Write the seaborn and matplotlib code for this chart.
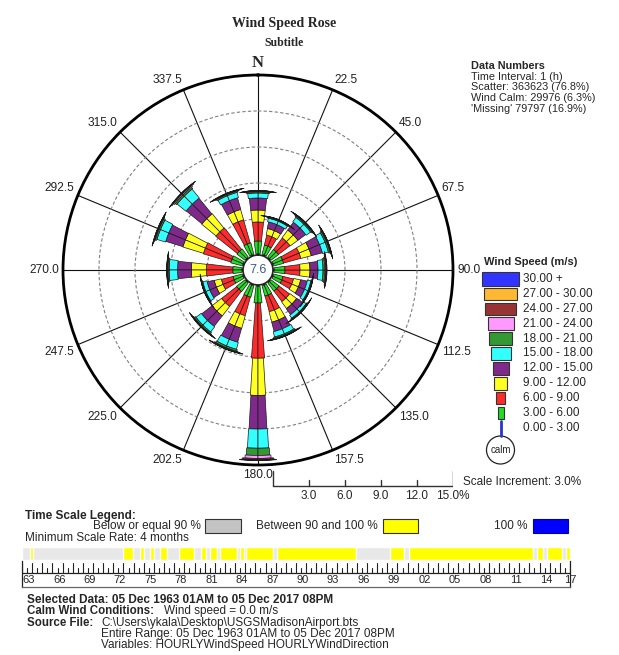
import numpy as np
import pandas as pd
import matplotlib
matplotlib.use("Agg")
import matplotlib.pyplot as plt
import seaborn as sns
from matplotlib.patches import Rectangle, Circle

sns.set_theme(style="white")
plt.rcParams['font.family'] = ['Liberation Sans', 'DejaVu Sans']

# --- Data ---
directions = np.arange(0, 360, 22.5)
speed_labels = ["0.00 - 3.00", "3.00 - 6.00", "6.00 - 9.00", "9.00 - 12.00",
                "12.00 - 15.00", "15.00 - 18.00", "18.00 - 21.00", "21.00 - 24.00",
                "24.00 - 27.00", "27.00 - 30.00", "30.00 +"]
speed_colors = ["#2a36c8", "#22dd22", "#ff2a2a", "#ffff22", "#7f2a8a", "#33ffff",
                "#339933", "#ff99ff", "#993333", "#ffb833", "#3333ff"]

# percent of valid records, per direction (N, NNE, NE, ... NNW)
pct_0_3 = [0.10, 0.10, 0.10, 0.10, 0.10, 0.10, 0.10, 0.10, 0.10, 0.10, 0.10, 0.10, 0.10, 0.10, 0.10, 0.10]
pct_3_6 = [1.07, 0.80, 0.80, 0.85, 0.90, 0.80, 0.85, 0.90, 1.40, 1.00, 0.90, 0.80, 0.75, 1.00, 0.85, 1.00]
pct_6_9 = [1.58, 0.85, 1.20, 1.50, 1.25, 0.90, 1.10, 1.35, 4.60, 1.60, 1.60, 1.00, 2.20, 2.40, 2.30, 2.00]
pct_9_12 = [1.00, 0.55, 0.80, 0.90, 0.83, 0.60, 0.70, 0.90, 3.10, 1.10, 1.00, 0.60, 1.25, 1.80, 1.55, 0.90]
pct_12_15 = [1.00, 0.55, 0.80, 0.95, 0.67, 0.55, 0.60, 0.80, 2.80, 1.20, 1.10, 0.60, 1.15, 1.50, 1.70, 1.00]
pct_15_18 = [0.42, 0.30, 0.45, 0.50, 0.42, 0.30, 0.30, 0.45, 1.60, 0.60, 0.55, 0.35, 0.70, 0.75, 0.95, 0.45]
pct_18_21 = [0.10, 0.07, 0.10, 0.12, 0.15, 0.07, 0.07, 0.10, 0.60, 0.15, 0.12, 0.07, 0.10, 0.12, 0.15, 0.10]
pct_21_24 = [0.05, 0.03, 0.05, 0.06, 0.08, 0.03, 0.03, 0.05, 0.25, 0.06, 0.05, 0.03, 0.05, 0.06, 0.10, 0.05]
pct_24_27 = [0.03, 0.02, 0.03, 0.03, 0.05, 0.02, 0.02, 0.03, 0.10, 0.03, 0.03, 0.02, 0.03, 0.04, 0.05, 0.03]
pct_27_30 = [0.02, 0.01, 0.02, 0.02, 0.03, 0.01, 0.01, 0.02, 0.05, 0.02, 0.02, 0.01, 0.02, 0.02, 0.03, 0.02]
pct_30_up = [0.01, 0.01, 0.01, 0.01, 0.02, 0.01, 0.01, 0.01, 0.03, 0.01, 0.01, 0.01, 0.01, 0.01, 0.02, 0.01]
calm_pct = 7.6

rose = pd.DataFrame([pct_0_3, pct_3_6, pct_6_9, pct_9_12, pct_12_15, pct_15_18,
                     pct_18_21, pct_21_24, pct_24_27, pct_27_30, pct_30_up],
                    index=speed_labels, columns=directions)

# time coverage (years with 90-100 % data), rest is <= 90 %
cover_start = [1964.67, 1973.88, 1975.57, 1976.51, 1977.52, 1979.44, 1981.51, 1982.41, 1983.39,
               1985.42, 1986.02, 1989.02, 2000.18, 2002.06, 2014.65, 2015.67, 2017.55]
cover_end = [1965.05, 1974.89, 1975.95, 1976.89, 1978.20, 1980.83, 1982.03, 1983.09, 1985.08,
             1985.79, 1988.65, 1996.88, 2001.57, 2014.28, 2015.29, 2017.17, 2017.92]
t_first, t_last = 1963.92, 2017.92
year_labels = ["63", "66", "69", "72", "75", "78", "81", "84", "87", "90",
               "93", "96", "99", "02", "05", "08", "11", "14", "17"]

# --- Figure ---
W, H = 619, 655
fig = plt.figure(figsize=(W / 100, H / 100), dpi=100)
fig.patch.set_facecolor("white")

cx, cy, R = 258, 270, 195
rmax, hole = 15.0, 1.25
px_per_pct = R / (rmax + hole)

ax = fig.add_axes([(cx - R) / W, (H - cy - R) / H, 2 * R / W, 2 * R / H], projection="polar")
ax.set_theta_zero_location("N")
ax.set_theta_direction(-1)
ax.set_ylim(0, rmax)
ax.set_rorigin(-hole)
ax.set_axisbelow(True)

bar_px = [2, 6, 9, 13, 16, 20, 23, 26, 31, 33, 37]
theta = np.deg2rad(directions)
bottoms = np.zeros(len(directions))
for i, cls in enumerate(rose.index):
    vals = rose.loc[cls].values
    mid_px = (bottoms + vals / 2 + hole) * px_per_pct
    w = bar_px[i] / mid_px
    for sgn in (1, -1):
        ax.bar(theta, vals, width=sgn * w / 2, bottom=bottoms, align="edge",
               color=speed_colors[i], edgecolor="#1a1a1a", linewidth=0.5, zorder=3)
    bottoms = bottoms + vals

ax.set_yticks([3, 6, 9, 12])
ax.set_yticklabels([])
ax.yaxis.grid(True, color="#808080", linestyle=(0, (3, 2)), linewidth=0.8)
ax.set_xticks(theta)
ax.set_xticklabels([])
ax.xaxis.grid(True, color="#111111", linewidth=0.8)
ax.tick_params(axis="x", length=0)
ax.spines["polar"].set_linewidth(2)
ax.spines["polar"].set_color("black")
ax.text(0.5, 0.5, f"{calm_pct:.1f}", transform=ax.transAxes, ha="center", va="center",
        fontsize=9, color="#3a5a8a")
ax.text(0.5, 1 + 12 / (2 * R), "N", transform=ax.transAxes, ha="center", va="center",
        fontsize=12, fontweight="bold", family="Liberation Serif")

# --- overlay in pixel coordinates ---
ov = fig.add_axes([0, 0, 1, 1], zorder=-1)
ov.set_xlim(0, W)
ov.set_ylim(H, 0)
ov.axis("off")

# direction labels just outside the ring
for d in directions[1:]:
    s, c = np.sin(np.deg2rad(d)), np.cos(np.deg2rad(d))
    ha = "left" if s > 0.3 else ("right" if s < -0.3 else "center")
    va = "bottom" if c > 0.3 else ("top" if c < -0.3 else "center")
    ov.text(cx + (R + 4) * s, cy - (R + 4) * c, f"{d:.1f}", ha=ha, va=va,
            fontsize=8.6, color="#222222")

ov.text(284, 23, "Wind Speed Rose", ha="center", va="center", fontsize=10,
        fontweight="bold", family="Liberation Serif")
ov.text(284, 43, "Subtitle", ha="center", va="center", fontsize=8.5,
        fontweight="bold", family="Liberation Serif")

ov.text(471, 66, "Data Numbers", fontsize=7.8, fontweight="bold", va="center")
info = ["Time Interval: 1 (h)", "Scatter: 363623 (76.8%)", "Wind Calm: 29976 (6.3%)",
        "'Missing' 79797 (16.9%)"]
for k, s in enumerate(info):
    ov.text(471, 76.5 + 10.8 * k, s, fontsize=7.8, va="center")

# wind speed legend
ov.text(484, 262, "Wind Speed (m/s)", fontsize=8, fontweight="bold", va="center")
for k in range(len(speed_labels)):
    i = len(speed_labels) - 1 - k
    yc = 279 + 14.9 * k
    if i == 0:
        ov.plot([500.5, 500.5], [yc - 7, 436], color=speed_colors[0], lw=2)
    else:
        h = 14 if k == 0 else 12.5
        ov.add_patch(Rectangle((500.5 - bar_px[i] / 2, yc - h / 2), bar_px[i], h,
                               facecolor=speed_colors[i], edgecolor="#333333", lw=0.8))
    ov.text(523, yc, speed_labels[i], fontsize=8.5, va="center")
ov.add_patch(Circle((500.5, 450), 14, facecolor="white", edgecolor="#222222", lw=0.9))
ov.text(500.5, 450, "calm", fontsize=7, ha="center", va="center")

# scale bar in percent units
sax = fig.add_axes([cx / W, (H - 500) / H, (R) / W, 30 / H])
sax.set_xlim(-hole, rmax)
sax.set_ylim(500, 470)
sax.axis("off")
sax.plot([0, rmax], [486, 486], color="#333333", lw=1)
for p in np.arange(0, rmax + 0.1, 3):
    top = 471 if p in (0, rmax) else 480
    sax.plot([p, p], [486, top], color="#333333", lw=1)
    if p > 0:
        lab = f"{p:.1f}%" if p == rmax else f"{p:.1f}"
        sax.text(p, 496, lab, fontsize=8.5, ha="center", va="center")
ov.text(463, 482, "Scale Increment: 3.0%", fontsize=8.5, va="center")

# time scale legend
fs = 8.5
ov.text(25, 516, "Time Scale Legend:", fontsize=fs, fontweight="bold", va="center")
ov.text(93, 526, "Below or equal 90 %", fontsize=fs, va="center")
ov.add_patch(Rectangle((205, 519), 36, 14, facecolor="#c3c3c3", edgecolor="#333333", lw=0.8))
ov.text(256, 526, "Between 90 and 100 %", fontsize=fs, va="center")
ov.add_patch(Rectangle((383, 519), 35, 14, facecolor="#ffff00", edgecolor="#333333", lw=0.8))
ov.text(494, 526, "100 %", fontsize=fs, va="center")
ov.add_patch(Rectangle((533, 519), 35, 14, facecolor="#0000ff", edgecolor="#0000aa", lw=0.8))
ov.text(25, 538, "Minimum Scale Rate: 4 months", fontsize=fs, va="center")

x0, x1 = 22, 570
tax = fig.add_axes([x0 / W, (H - 560) / H, (x1 - x0) / W, 13 / H])
tax.set_xlim(t_first, t_last)
tax.set_ylim(0, 1)
tax.axis("off")
tax.barh(0.5, t_last - t_first, left=t_first, height=1, color="#e8e8e8")
cover = pd.DataFrame({"start": cover_start, "end": cover_end})
tax.barh(np.full(len(cover), 0.5), cover["end"] - cover["start"], left=cover["start"],
         height=1, color="#ffff00")

rax = fig.add_axes([x0 / W, (H - 587) / H, (x1 - x0) / W, 26 / H])
rax.set_xlim(t_first, t_last)
rax.set_ylim(26, 0)
rax.set_xticks([])
rax.set_yticks([])
rax.spines["top"].set_visible(False)
for s in ["left", "right", "bottom"]:
    rax.spines[s].set_color("#222222")
    rax.spines[s].set_linewidth(0.9)
rax.spines["bottom"].set_color("#666666")
rax.plot([t_first, t_last], [12, 12], color="#222222", lw=0.9)
ticks = np.arange(t_first, t_last + 0.01, 0.5)
for k, t in enumerate(ticks):
    top = 2 if k % 2 == 0 else 7
    rax.plot([t, t], [12, top], color="#222222", lw=0.8)
for k, lab in enumerate(year_labels):
    t = t_first + 3 * k
    rax.text(t + 0.05, 19, lab, fontsize=8, ha="left" if k < len(year_labels) - 1 else "center",
             va="center")

# footer
ov.text(27, 600, "Selected Data: 05 Dec 1963 01AM to 05 Dec 2017 08PM", fontsize=8.5,
        fontweight="bold", va="center")
ov.text(27, 611, "Calm Wind Conditions:", fontsize=8.3, fontweight="bold", va="center")
ov.text(164, 611, "Wind speed = 0.0 m/s", fontsize=8.5, va="center")
ov.text(27, 623, "Source File:", fontsize=8.3, fontweight="bold", va="center")
ov.text(101, 623, "C:\\Users\\ykala\\Desktop\\USGSMadisonAirport.bts", fontsize=8.5, va="center")
ov.text(101, 634, "Entire Range: 05 Dec 1963 01AM to 05 Dec 2017 08PM", fontsize=8.5, va="center")
ov.text(101, 645, "Variables: HOURLYWindSpeed HOURLYWindDirection", fontsize=8.5, va="center")

fig.savefig("out.png", dpi=100)
